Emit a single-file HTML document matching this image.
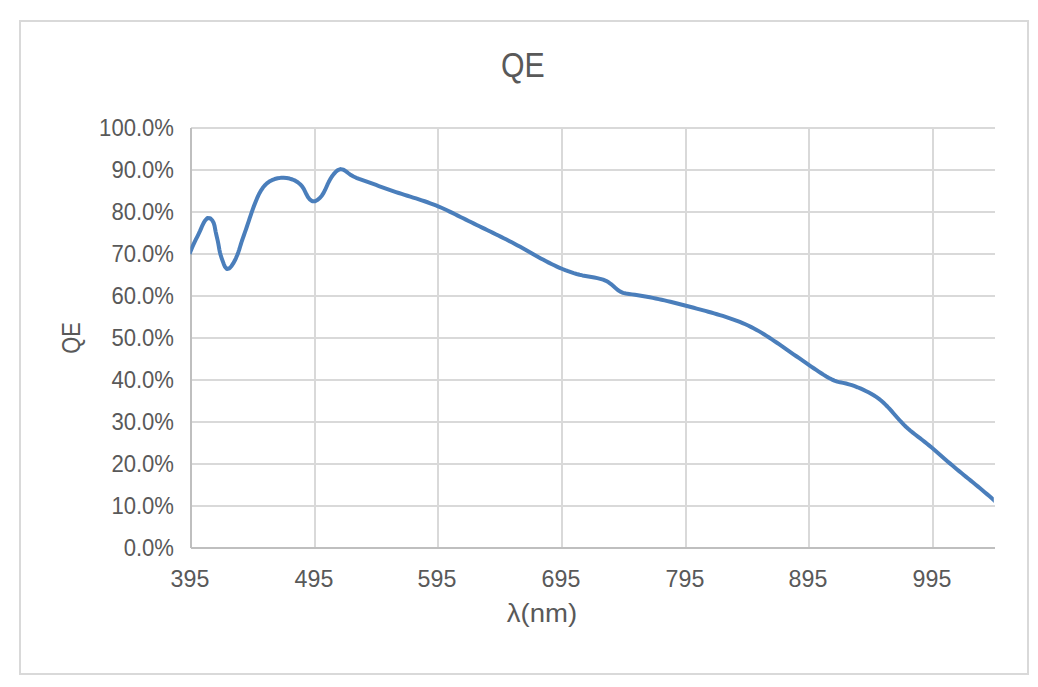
<!DOCTYPE html>
<html><head><meta charset="utf-8"><style>
html,body{margin:0;padding:0;background:#fff;}
body{width:1038px;height:687px;position:relative;overflow:hidden;font-family:"Liberation Sans",sans-serif;color:#595959;}
.frame{position:absolute;left:19px;top:20px;width:1010px;height:655px;box-sizing:border-box;border:2px solid #d9d9d9;}
svg{position:absolute;left:0;top:0;}
.title{position:absolute;left:423px;width:200px;top:44.8px;text-align:center;font-size:35.8px;line-height:40px;}
.title span{display:inline-block;transform:scaleX(0.845);}
.yl{position:absolute;left:60px;width:114px;text-align:right;font-size:23px;line-height:26px;transform:scaleX(0.96);transform-origin:100% 50%;}
.xl{position:absolute;top:566.3px;width:80px;text-align:center;font-size:23px;line-height:26px;transform:scaleX(1.01);}
.xt{position:absolute;left:442px;width:200px;top:598px;text-align:center;font-size:26px;line-height:30px;transform:scaleX(1.06);}
.yt{position:absolute;left:71px;top:338px;width:0;height:0;}
.yt span{position:absolute;left:-50px;top:-15px;width:100px;text-align:center;font-size:26px;line-height:30px;transform:rotate(-90deg) scaleX(0.84);}
</style></head><body>
<div class="frame"></div>
<svg width="1038" height="687" viewBox="0 0 1038 687">
<rect x="191" y="127" width="804" height="2" fill="#d9d9d9"/>
<rect x="191" y="169" width="804" height="2" fill="#d9d9d9"/>
<rect x="191" y="211" width="804" height="2" fill="#d9d9d9"/>
<rect x="191" y="253" width="804" height="2" fill="#d9d9d9"/>
<rect x="191" y="295" width="804" height="2" fill="#d9d9d9"/>
<rect x="191" y="337" width="804" height="2" fill="#d9d9d9"/>
<rect x="191" y="379" width="804" height="2" fill="#d9d9d9"/>
<rect x="191" y="421" width="804" height="2" fill="#d9d9d9"/>
<rect x="191" y="463" width="804" height="2" fill="#d9d9d9"/>
<rect x="191" y="505" width="804" height="2" fill="#d9d9d9"/>
<rect x="314" y="127" width="2" height="420" fill="#d9d9d9"/>
<rect x="437" y="127" width="2" height="420" fill="#d9d9d9"/>
<rect x="561" y="127" width="2" height="420" fill="#d9d9d9"/>
<rect x="685" y="127" width="2" height="420" fill="#d9d9d9"/>
<rect x="808" y="127" width="2" height="420" fill="#d9d9d9"/>
<rect x="932" y="127" width="2" height="420" fill="#d9d9d9"/>
<rect x="190" y="128" width="2" height="420" fill="#bfbfbf"/>
<rect x="191" y="547" width="804" height="2" fill="#bfbfbf"/>
<clipPath id="pc"><rect x="190.4" y="100" width="803.4" height="460"/></clipPath>
<path clip-path="url(#pc)" d="M189.47,253.90 L191.00,250.20 L192.15,247.41 L193.39,244.67 L194.68,241.94 L196.01,239.24 L197.34,236.54 L198.66,233.83 L199.93,231.10 L201.14,228.33 L202.34,225.57 L203.66,222.87 L205.24,220.30 L207.33,218.08 L210.16,218.25 L212.31,220.38 L213.72,223.04 L214.56,225.93 L215.11,228.89 L215.68,231.85 L216.33,234.79 L217.02,237.72 L217.70,240.66 L218.31,243.61 L218.84,246.58 L219.36,249.55 L219.97,252.50 L220.76,255.40 L221.71,258.26 L222.71,261.08 L223.73,263.95 L224.92,266.72 L226.85,269.02 L229.56,268.22 L231.57,265.96 L233.21,263.43 L234.67,260.76 L235.99,258.04 L237.18,255.29 L238.26,252.46 L239.21,249.61 L240.09,246.74 L240.96,243.85 L241.88,240.99 L242.88,238.14 L243.90,235.30 L244.90,232.46 L245.89,229.61 L246.86,226.76 L247.81,223.90 L248.76,221.04 L249.71,218.18 L250.67,215.32 L251.65,212.47 L252.65,209.63 L253.68,206.80 L254.75,203.98 L255.85,201.18 L257.01,198.40 L258.26,195.65 L259.61,192.96 L261.12,190.34 L262.80,187.85 L264.70,185.51 L266.85,183.40 L269.26,181.59 L271.90,180.14 L274.70,179.04 L277.62,178.29 L280.60,177.87 L283.61,177.78 L286.62,178.01 L289.58,178.57 L292.46,179.47 L295.21,180.70 L297.77,182.27 L300.10,184.19 L302.12,186.42 L303.77,188.94 L305.12,191.62 L306.43,194.34 L307.89,196.98 L309.71,199.42 L312.12,201.16 L315.06,201.14 L317.74,199.71 L320.03,197.73 L321.97,195.43 L323.59,192.89 L324.96,190.21 L326.20,187.46 L327.43,184.71 L328.72,181.99 L330.13,179.33 L331.72,176.77 L333.50,174.34 L335.51,172.09 L337.81,170.14 L340.61,169.08 L343.49,169.78 L346.04,171.40 L348.43,173.25 L350.88,175.02 L353.49,176.53 L356.22,177.80 L359.03,178.88 L361.87,179.88 L364.71,180.88 L367.55,181.90 L370.38,182.92 L373.22,183.95 L376.05,184.98 L378.88,186.01 L381.71,187.04 L384.55,188.06 L387.38,189.08 L390.23,190.08 L393.07,191.06 L395.93,192.03 L398.79,192.98 L401.66,193.91 L404.53,194.82 L407.40,195.73 L410.28,196.63 L413.15,197.54 L416.02,198.45 L418.89,199.37 L421.76,200.31 L424.61,201.27 L427.46,202.26 L430.29,203.28 L433.11,204.34 L435.92,205.44 L438.71,206.59 L441.47,207.78 L444.22,209.02 L446.96,210.29 L449.68,211.59 L452.39,212.91 L455.09,214.24 L457.78,215.59 L460.47,216.94 L463.17,218.30 L465.86,219.64 L468.56,220.98 L471.27,222.31 L473.98,223.63 L476.69,224.95 L479.40,226.27 L482.11,227.58 L484.82,228.89 L487.54,230.20 L490.25,231.52 L492.96,232.84 L495.66,234.17 L498.37,235.50 L501.06,236.84 L503.76,238.19 L506.45,239.55 L509.13,240.93 L511.80,242.32 L514.46,243.73 L517.12,245.15 L519.76,246.60 L522.40,248.06 L525.03,249.53 L527.65,251.01 L530.28,252.50 L532.90,253.98 L535.52,255.46 L538.15,256.93 L540.79,258.39 L543.44,259.83 L546.10,261.25 L548.77,262.64 L551.46,264.00 L554.17,265.32 L556.90,266.61 L559.64,267.84 L562.42,269.02 L565.21,270.15 L568.03,271.22 L570.87,272.21 L573.74,273.14 L576.63,273.98 L579.55,274.75 L582.49,275.42 L585.44,276.01 L588.41,276.54 L591.38,277.04 L594.35,277.56 L597.31,278.15 L600.24,278.84 L603.12,279.70 L605.92,280.83 L608.56,282.27 L611.00,284.04 L613.26,286.03 L615.49,288.07 L617.79,290.02 L620.29,291.70 L623.05,292.88 L625.98,293.57 L628.97,294.00 L631.96,294.38 L634.94,294.80 L637.92,295.24 L640.90,295.71 L643.87,296.21 L646.84,296.74 L649.80,297.30 L652.76,297.88 L655.71,298.48 L658.66,299.11 L661.60,299.75 L664.54,300.42 L667.48,301.10 L670.41,301.80 L673.33,302.51 L676.26,303.24 L679.18,303.98 L682.10,304.72 L685.02,305.48 L687.93,306.25 L690.84,307.02 L693.76,307.80 L696.67,308.58 L699.58,309.37 L702.48,310.15 L705.39,310.94 L708.30,311.74 L711.20,312.55 L714.10,313.37 L717.00,314.21 L719.89,315.06 L722.77,315.95 L725.64,316.86 L728.50,317.80 L731.35,318.77 L734.19,319.79 L737.02,320.84 L739.82,321.94 L742.61,323.09 L745.37,324.29 L748.11,325.54 L750.83,326.85 L753.51,328.22 L756.17,329.64 L758.79,331.12 L761.39,332.65 L763.97,334.21 L766.52,335.82 L769.05,337.45 L771.56,339.12 L774.06,340.80 L776.55,342.50 L779.03,344.22 L781.50,345.94 L783.97,347.67 L786.44,349.39 L788.91,351.12 L791.39,352.83 L793.87,354.54 L796.35,356.25 L798.83,357.96 L801.32,359.67 L803.80,361.38 L806.28,363.09 L808.76,364.81 L811.23,366.53 L813.71,368.24 L816.19,369.95 L818.69,371.63 L821.21,373.28 L823.76,374.89 L826.34,376.44 L828.96,377.93 L831.63,379.33 L834.38,380.58 L837.21,381.61 L840.14,382.32 L843.10,382.86 L846.04,383.53 L848.95,384.31 L851.83,385.20 L854.68,386.19 L857.49,387.26 L860.28,388.41 L863.03,389.63 L865.75,390.93 L868.44,392.29 L871.09,393.73 L873.68,395.26 L876.22,396.89 L878.67,398.65 L881.02,400.53 L883.28,402.52 L885.46,404.60 L887.57,406.75 L889.63,408.96 L891.64,411.20 L893.63,413.46 L895.61,415.74 L897.59,418.00 L899.60,420.25 L901.64,422.47 L903.74,424.63 L905.90,426.73 L908.14,428.75 L910.43,430.71 L912.77,432.60 L915.14,434.46 L917.53,436.30 L919.93,438.13 L922.31,439.97 L924.68,441.83 L927.03,443.73 L929.35,445.64 L931.66,447.58 L933.95,449.54 L936.24,451.50 L938.51,453.48 L940.78,455.47 L943.05,457.45 L945.32,459.43 L947.59,461.41 L949.87,463.38 L952.17,465.33 L954.47,467.28 L956.78,469.21 L959.10,471.13 L961.43,473.04 L963.76,474.95 L966.10,476.86 L968.44,478.76 L970.77,480.66 L973.11,482.57 L975.44,484.48 L977.77,486.39 L980.09,488.31 L982.41,490.24 L984.71,492.18 L987.00,494.14 L989.28,496.11 L991.55,498.10 L993.80,500.10 L996.79,502.76" fill="none" stroke="#4a7ebb" stroke-width="4" stroke-linejoin="round" stroke-linecap="butt"/>
</svg>
<div class="title"><span>QE</span></div>
<div class="yl" style="top:115px">100.0%</div><div class="yl" style="top:157px">90.0%</div><div class="yl" style="top:199px">80.0%</div><div class="yl" style="top:241px">70.0%</div><div class="yl" style="top:283px">60.0%</div><div class="yl" style="top:325px">50.0%</div><div class="yl" style="top:367px">40.0%</div><div class="yl" style="top:409px">30.0%</div><div class="yl" style="top:451px">20.0%</div><div class="yl" style="top:493px">10.0%</div><div class="yl" style="top:535px">0.0%</div>
<div class="xl" style="left:150px">395</div><div class="xl" style="left:274px">495</div><div class="xl" style="left:397px">595</div><div class="xl" style="left:521px">695</div><div class="xl" style="left:645px">795</div><div class="xl" style="left:768px">895</div><div class="xl" style="left:892px">995</div>
<div class="xt">λ(nm)</div>
<div class="yt"><span>QE</span></div>
</body></html>
